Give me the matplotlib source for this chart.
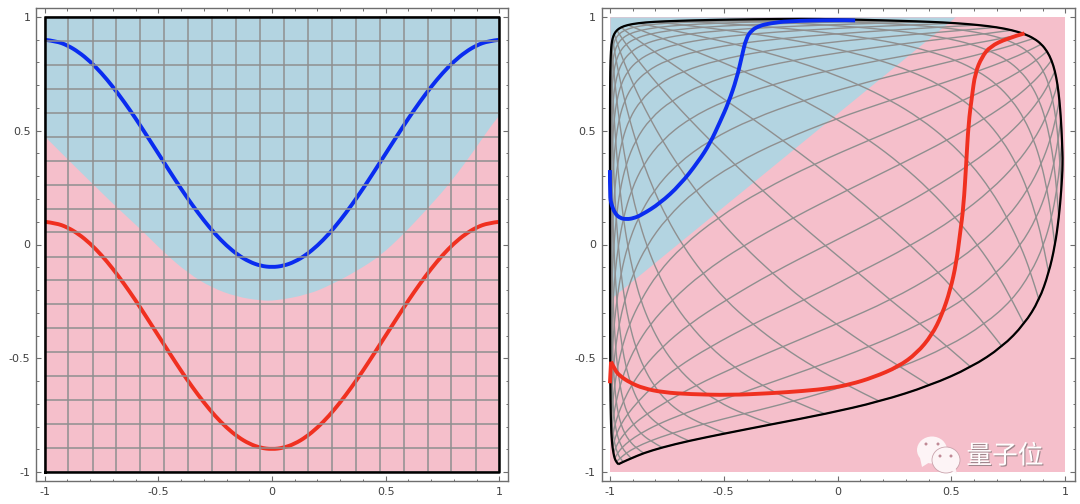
import numpy as np
import matplotlib
matplotlib.use('Agg')
from matplotlib import pyplot as plt
from matplotlib.patches import Ellipse, Polygon, PathPatch
from matplotlib.path import Path
import matplotlib.patheffects as pe

##########
# VALUES #
##########

tick_pos = [-1, -0.5, 0, 0.5, 1]
tick_labels = ['-1', '-0.5', '0', '0.5', '1']
minor_pos = [-0.9, -0.8, -0.7, -0.6, -0.4, -0.3, -0.2, -0.1, 0.1, 0.2, 0.3, 0.4, 0.6, 0.7, 0.8, 0.9]

# left panel: straight grid
grid_pos = [-1, -0.895, -0.789, -0.684, -0.579, -0.474, -0.368, -0.263, -0.158, -0.053,
            0.053, 0.158, 0.263, 0.368, 0.474, 0.579, 0.684, 0.789, 0.895, 1]

curve_x = [-1, -0.95, -0.9, -0.85, -0.8, -0.75, -0.7, -0.65, -0.6, -0.55, -0.5, -0.45, -0.4, -0.35, -0.3,
           -0.25, -0.2, -0.15, -0.1, -0.05, 0, 0.05, 0.1, 0.15, 0.2, 0.25, 0.3, 0.35, 0.4, 0.45, 0.5,
           0.55, 0.6, 0.65, 0.7, 0.75, 0.8, 0.85, 0.9, 0.95, 1]
blue_y = [0.9, 0.894, 0.876, 0.846, 0.805, 0.754, 0.694, 0.627, 0.555, 0.478, 0.4, 0.322, 0.245, 0.173, 0.106,
          0.046, -0.005, -0.046, -0.076, -0.094, -0.1, -0.094, -0.076, -0.046, -0.005, 0.046, 0.106, 0.173,
          0.245, 0.322, 0.4, 0.478, 0.555, 0.627, 0.694, 0.754, 0.805, 0.846, 0.876, 0.894, 0.9]
red_y = [0.1, 0.094, 0.076, 0.046, 0.005, -0.046, -0.106, -0.173, -0.245, -0.322, -0.4, -0.478, -0.555, -0.627,
         -0.694, -0.754, -0.805, -0.846, -0.876, -0.894, -0.9, -0.894, -0.876, -0.846, -0.805, -0.754, -0.694,
         -0.627, -0.555, -0.478, -0.4, -0.322, -0.245, -0.173, -0.106, -0.046, 0.005, 0.046, 0.076, 0.094, 0.1]

# border between blue and pink areas, left panel
border_x = [-1, -0.895, -0.793, -0.686, -0.58, -0.473, -0.368, -0.265, -0.155, -0.053, 0.013,
            0.16, 0.262, 0.372, 0.475, 0.577, 0.687, 0.79, 0.892, 0.988, 1]
border_y = [0.476, 0.371, 0.271, 0.166, 0.07, -0.037, -0.127, -0.19, -0.23, -0.246, -0.248,
            -0.22, -0.176, -0.117, -0.051, 0.044, 0.161, 0.278, 0.418, 0.557, 0.565]

# right panel: blue area is the corner above this edge
wedge_x = [-1, 0.516]
wedge_y = [-0.24, 1]

blue2_x = [-1, -1, -0.993, -0.978, -0.956, -0.927, -0.897, -0.861, -0.78, -0.692, -0.612, -0.56, -0.516,
           -0.48, -0.443, -0.421, -0.402, -0.377, -0.341, -0.297, -0.223, -0.004, 0.077]
blue2_y = [0.327, 0.21, 0.174, 0.137, 0.116, 0.111, 0.115, 0.13, 0.181, 0.262, 0.364, 0.445, 0.54,
           0.621, 0.73, 0.825, 0.906, 0.943, 0.962, 0.972, 0.982, 0.987, 0.985]

red2_x = [-1, -0.995, -0.978, -0.956, -0.912, -0.854, -0.766, -0.648, -0.473, -0.297, -0.15, -0.033, 0.055,
          0.157, 0.267, 0.348, 0.414, 0.458, 0.495, 0.521, 0.538, 0.553, 0.565, 0.575, 0.59, 0.604, 0.634,
          0.67, 0.744, 0.821]
red2_y = [-0.61, -0.515, -0.552, -0.578, -0.607, -0.632, -0.65, -0.658, -0.662, -0.654, -0.644, -0.632, -0.615,
          -0.584, -0.537, -0.478, -0.398, -0.31, -0.2, -0.083, 0.049, 0.166, 0.357, 0.533, 0.65, 0.753, 0.825,
          0.87, 0.906, 0.928]

# right panel: bent mesh, 20 x 20 crossings.
# crossing (i, j) sits at x = mesh_x_steps[5*i - 3*j + 57], y = mesh_y_steps[i + j]
mesh_x_steps = [-0.9999, -0.9998, -0.9998, -0.9998, -0.9998, -0.9998, -0.9997, -0.9997, -0.9997, -0.9996,
                -0.9996, -0.9996, -0.9995, -0.9995, -0.9994, -0.9994, -0.9993, -0.9992, -0.9992, -0.9991,
                -0.999, -0.9989, -0.9988, -0.9986, -0.9985, -0.9984, -0.9982, -0.998, -0.9978, -0.9975,
                -0.9973, -0.997, -0.9967, -0.9964, -0.996, -0.9956, -0.9951, -0.9946, -0.9941, -0.9935,
                -0.9928, -0.9921, -0.9913, -0.9904, -0.9894, -0.9884, -0.9872, -0.9859, -0.9845, -0.9829,
                -0.9812, -0.9793, -0.9772, -0.9749, -0.9724, -0.9697, -0.9667,
                -0.9633, -0.9597, -0.9557, -0.9513, -0.9465, -0.9412, -0.9354, -0.9291, -0.9222, -0.9146,
                -0.9063, -0.8973, -0.8874, -0.8767, -0.865, -0.8523, -0.8385, -0.8235, -0.8073, -0.7898,
                -0.7709, -0.7505, -0.7286, -0.7051, -0.6799, -0.653, -0.6243, -0.5938, -0.5616, -0.5276,
                -0.4918, -0.4542, -0.4149, -0.374, -0.3316, -0.2878, -0.2428, -0.1967, -0.1497, -0.1021,
                -0.054, -0.0056, 0.0428, 0.091, 0.1388, 0.1859, 0.2322, 0.2775, 0.3216, 0.3643,
                0.4055, 0.4451, 0.4831, 0.5193, 0.5538, 0.5865, 0.6174, 0.6465, 0.6738, 0.6994,
                0.7233, 0.7456, 0.7663, 0.7856, 0.8034, 0.8199, 0.8352, 0.8493, 0.8622, 0.8741,
                0.8851, 0.8951, 0.9043, 0.9127, 0.9204, 0.9275, 0.934, 0.9399, 0.9453, 0.9502,
                0.9547, 0.9588, 0.9625, 0.9659, 0.969, 0.9718, 0.9744, 0.9768, 0.9789, 0.9808,
                0.9826, 0.9842, 0.9857, 0.987, 0.9882, 0.9892]
mesh_y_steps = [-0.966, -0.955, -0.94, -0.917, -0.892, -0.863, -0.83, -0.79, -0.745, -0.69, -0.62, -0.54, -0.45,
                -0.35, -0.245, -0.125, -0.005, 0.117, 0.239, 0.354, 0.459, 0.553, 0.634, 0.704, 0.762, 0.81,
                0.849, 0.881, 0.906, 0.926, 0.942, 0.955, 0.965, 0.973, 0.979, 0.983, 0.987, 0.99, 0.992]

BLUE_BG = '#b3d4e1'
PINK_BG = '#f5bfcb'
GRID_COL = '#8f8f8f'
BLUE_COL = '#0a2cf0'
RED_COL = '#f03020'
FRAME_COL = '#6e6e6e'
TEXT_COL = '#404040'

#############
# FUNCTIONS #
#############

def make_axes(fig, left, right):
    # frame given in picture pixels
    top, bottom = 8, 481
    ax = fig.add_axes([left/1080, 1 - bottom/504, (right - left)/1080, (bottom - top)/504])
    ax.set_ylim(-1.0395, 1.0395)
    ax.set_xticks(tick_pos)
    ax.set_xticklabels(tick_labels)
    ax.set_yticks(tick_pos)
    ax.set_yticklabels(tick_labels)
    ax.set_xticks(minor_pos, minor=True)
    ax.set_yticks(minor_pos, minor=True)
    ax.tick_params(which='major', direction='in', length=3.4, width=0.8, color=FRAME_COL, top=True, right=True,
                   labelsize=8, labelcolor=TEXT_COL, pad=4)
    ax.tick_params(which='minor', direction='in', length=1.8, width=0.7, color=FRAME_COL, top=True, right=True)
    for s in ax.spines.values():
        s.set_color(FRAME_COL)
        s.set_linewidth(1.0)
    return ax

def mesh_point(i, j):
    return mesh_x_steps[5*i - 3*j + 57], mesh_y_steps[i + j]

def mesh_line(pairs):
    pts = [mesh_point(i, j) for i, j in pairs]
    return [p[0] for p in pts], [p[1] for p in pts]

def round_path(xs, ys):
    # quadratic bezier pieces with the listed points as control points, so the agg renderer draws it smooth
    pts = list(zip(xs, ys))
    verts = [pts[0]]
    codes = [Path.MOVETO]
    for k in range(1, len(pts) - 1):
        if k < len(pts) - 2:
            end = ((pts[k][0] + pts[k+1][0])/2, (pts[k][1] + pts[k+1][1])/2)
        else:
            end = pts[k+1]
        verts += [pts[k], end]
        codes += [Path.CURVE3, Path.CURVE3]
    return verts, codes

def draw_round(ax, xs, ys, color, lw):
    verts, codes = round_path(xs, ys)
    ax.add_patch(PathPatch(Path(verts, codes), fc='none', ec=color, lw=lw, capstyle='butt', snap=False))

########
# MAIN #
########

fig = plt.figure(figsize=(10.8, 5.04), dpi=100)

# left panel
ax1 = make_axes(fig, 36, 508)
ax1.set_xlim(-1.0375, 1.0375)
ax1.fill_between([-1, 1], [-1, -1], [1, 1], color=BLUE_BG, lw=0)
verts, codes = round_path(border_x, border_y)
verts += [(1, -1), (-1, -1), (-1, border_y[0])]
codes += [Path.LINETO, Path.LINETO, Path.LINETO]
ax1.add_patch(PathPatch(Path(verts, codes), fc=PINK_BG, ec='none', lw=0))
for g in grid_pos:
    ax1.plot([g, g], [-1, 1], color=GRID_COL, lw=1.1)
    ax1.plot([-1, 1], [g, g], color=GRID_COL, lw=1.1)
ax1.plot([-1, 1, 1, -1, -1], [-1, -1, 1, 1, -1], color='black', lw=1.8)
draw_round(ax1, curve_x, red_y, RED_COL, 2.8)
draw_round(ax1, curve_x, blue_y, BLUE_COL, 2.8)

# right panel
ax2 = make_axes(fig, 601.5, 1075)
ax2.set_xlim(-1.037, 1.0427)
ax2.fill_between([-1, 1], [-1, -1], [1, 1], color=PINK_BG, lw=0)
ax2.fill_between(wedge_x, wedge_y, [1, 1], color=BLUE_BG, lw=0)
for n in range(20):
    xs, ys = mesh_line([(n, j) for j in range(20)])
    draw_round(ax2, xs, ys, GRID_COL, 1.0)
    xs, ys = mesh_line([(i, n) for i in range(20)])
    draw_round(ax2, xs, ys, GRID_COL, 1.0)
edge = [(i, 0) for i in range(20)] + [(19, j) for j in range(1, 20)] \
    + [(i, 19) for i in range(18, -1, -1)] + [(0, j) for j in range(18, -1, -1)]
xs, ys = mesh_line(edge)
draw_round(ax2, xs, ys, 'black', 1.6)
ax2.plot(red2_x[:2], red2_y[:2], color=RED_COL, lw=2.8, solid_capstyle='butt')
draw_round(ax2, red2_x[1:], red2_y[1:], RED_COL, 2.8)
draw_round(ax2, blue2_x, blue2_y, BLUE_COL, 2.8)

# watermark, drawn in picture pixels
over = fig.add_axes([0, 0, 1, 1], zorder=5)
over.set_xlim(0, 1080)
over.set_ylim(504, 0)
over.axis('off')
icon = '#fdf4f6'
over.add_patch(Ellipse((932, 450), 30, 27, color=icon, lw=0))
over.add_patch(Polygon([(920, 458), (922, 467), (930, 462)], color=icon, lw=0))
over.add_patch(Ellipse((946, 460), 28, 26, fc=icon, ec='#c9a3ac', lw=0.6))
over.add_patch(Polygon([(950, 470), (957, 474), (955, 466)], color=icon, lw=0))
for ex, ey, es in [(926, 444, 3), (938, 444, 3), (940, 456, 3), (951, 456, 3)]:
    over.add_patch(Ellipse((ex, ey), es, es, color='#c08a96', lw=0))
over.text(1005, 456.5, '量子位', fontsize=18.5, color='white', ha='center', va='center',
          family=['Noto Sans CJK SC', 'DejaVu Sans'],
          path_effects=[pe.withSimplePatchShadow(offset=(0.8, -0.8), shadow_rgbFace='#8a7a7e', alpha=0.8)])

fig.savefig('out.png', dpi=100)
